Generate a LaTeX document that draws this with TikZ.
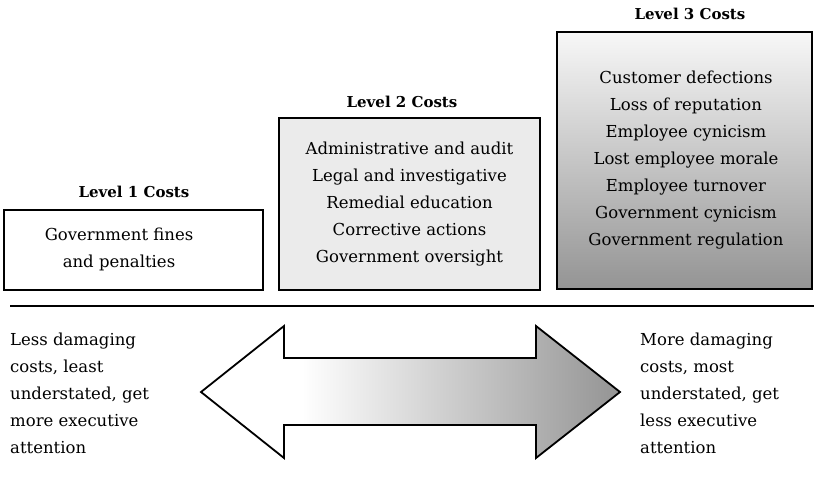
\documentclass[tikz,border=0pt]{standalone}
\usepackage{fontspec}
\setmainfont{DejaVu Serif}
\usetikzlibrary{calc}
\pgfdeclarehorizontalshading{arrowshade}{100bp}{color(0bp)=(white); color(25bp)=(white); color(37bp)=(white); color(75bp)=(black!42); color(100bp)=(black!42)}
\pgfdeclareverticalshading{boxshade}{100bp}{color(0bp)=(black!42); color(25bp)=(black!42); color(75bp)=(black!3); color(100bp)=(black!3)}
\tikzset{
  costbox/.style={draw=black, line width=2pt},
  title/.style={font=\bfseries\fontsize{15}{18}\selectfont, anchor=center, inner sep=0pt},
  items/.style={font=\fontsize{16.5}{27}\selectfont, align=center, anchor=north, inner sep=0pt},
  side/.style={font=\fontsize{16.5}{27}\selectfont, align=left, anchor=north west, inner sep=0pt},
}
\begin{document}
\begin{tikzpicture}[x=1pt,y=-1pt]
\useasboundingbox (0,0) rectangle (818,482);
% boxes
\draw[costbox, fill=white] (4,210) rectangle (263,290);
\draw[costbox, fill=black!8] (279,118) rectangle (540,290);
\draw[costbox, shading=boxshade] (557,32) rectangle (812,289);
% titles
\node[title] (t1) at (134,192) {Level 1 Costs};
\node[title] (t2) at (402,102) {Level 2 Costs};
\node[title] (t3) at (690,14) {Level 3 Costs};
% items
\node[items] (i1) at (119,228) {Government fines\\and penalties};
\node[items] (i2) at (409.5,142) {Administrative and audit\\Legal and investigative\\Remedial education\\Corrective actions\\Government oversight};
\node[items] (i3) at (686,71) {Customer defections\\Loss of reputation\\Employee cynicism\\Lost employee morale\\Employee turnover\\Government cynicism\\Government regulation};
% divider
\coordinate (l1) at (10,306);
\coordinate (l2) at (814,306);
\draw[line width=2pt] (l1) -- (l2);
% arrow
\draw[line width=1.8pt, line join=miter, shading=arrowshade]
  (201,392) -- (284,326) -- (284,358) -- (536,358) -- (536,326) -- (620,392)
  -- (536,458) -- (536,425) -- (284,425) -- (284,458) -- cycle;
% side texts
\node[side] (s1) at (10,333) {Less damaging\\costs, least\\understated, get\\more executive\\attention};
\node[side] (s2) at (640,333) {More damaging\\costs, most\\understated, get\\less executive\\attention};
\end{tikzpicture}
\end{document}
